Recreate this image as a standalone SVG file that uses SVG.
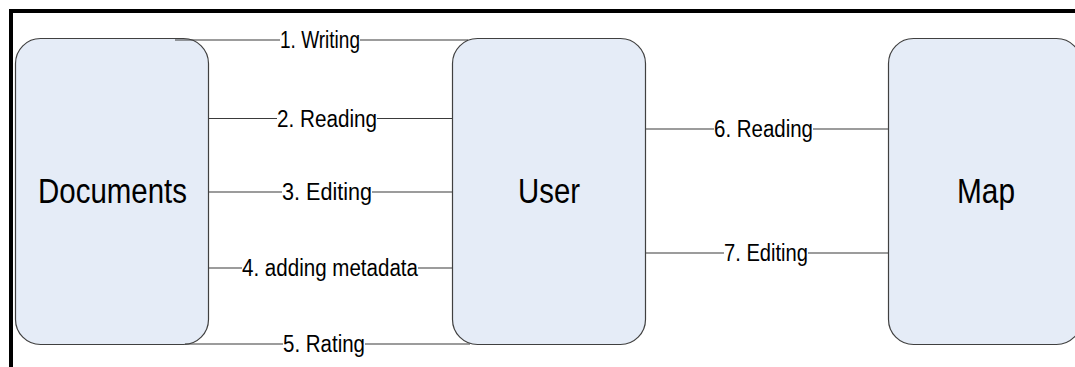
<svg xmlns="http://www.w3.org/2000/svg" width="1075" height="367" viewBox="0 0 1075 367">
<style>
.node{fill:#e5ecf7;stroke:#404040;stroke-width:1.2}
.big{font-family:"Liberation Sans",Arial,sans-serif;font-size:35px;fill:#000;text-anchor:middle}
.lbl{font-family:"Liberation Sans",Arial,sans-serif;font-size:23px;fill:#000;text-anchor:middle}
.ln{stroke:#3a3a3a;stroke-width:1.2;fill:none}
.mask{fill:#fff}
</style>
<rect x="0" y="0" width="1075" height="367" fill="#fff"/>
<g id="frame">
<rect x="9" y="9" width="1066" height="4" fill="#000"/>
<rect x="9" y="9" width="4" height="358" fill="#000"/>
</g>
<g id="documents">
<rect class="node" x="15.5" y="38.5" width="193" height="306" rx="25" ry="25"/>
<text class="big" x="112.5" y="202.5" textLength="149" lengthAdjust="spacingAndGlyphs">Documents</text>
</g>
<g id="user">
<rect class="node" x="452.5" y="38.5" width="193" height="306" rx="25" ry="25"/>
<text class="big" x="549" y="202.5" textLength="62" lengthAdjust="spacingAndGlyphs">User</text>
</g>
<g id="map">
<rect class="node" x="888.5" y="38.5" width="193" height="306" rx="25" ry="25"/>
<text class="big" x="986" y="202.5" textLength="58" lengthAdjust="spacingAndGlyphs">Map</text>
</g>
<g id="connectors">
<line class="ln" x1="175" y1="40" x2="468" y2="40"/>
<rect class="mask" x="280" y="29" width="80" height="22"/>
<text class="lbl" x="320" y="47.5" textLength="80" lengthAdjust="spacingAndGlyphs">1. Writing</text>

<line class="ln" x1="209" y1="118.5" x2="452" y2="118.5"/>
<rect class="mask" x="277" y="107" width="100" height="22"/>
<text class="lbl" x="327" y="126.5" textLength="100" lengthAdjust="spacingAndGlyphs">2. Reading</text>

<line class="ln" x1="209" y1="192" x2="452" y2="192"/>
<rect class="mask" x="282" y="181" width="90" height="22"/>
<text class="lbl" x="327" y="200" textLength="90" lengthAdjust="spacingAndGlyphs">3. Editing</text>

<line class="ln" x1="209" y1="268" x2="452" y2="268"/>
<rect class="mask" x="242" y="257" width="176" height="22"/>
<text class="lbl" x="330" y="276" textLength="176" lengthAdjust="spacingAndGlyphs">4. adding metadata</text>

<line class="ln" x1="185" y1="344" x2="470" y2="344"/>
<rect class="mask" x="283" y="333" width="82" height="22"/>
<text class="lbl" x="324" y="352" textLength="82" lengthAdjust="spacingAndGlyphs">5. Rating</text>

<line class="ln" x1="646" y1="129" x2="888" y2="129"/>
<rect class="mask" x="714" y="118" width="99" height="22"/>
<text class="lbl" x="763.5" y="137" textLength="99" lengthAdjust="spacingAndGlyphs">6. Reading</text>

<line class="ln" x1="646" y1="253" x2="888" y2="253"/>
<rect class="mask" x="724" y="242" width="84" height="22"/>
<text class="lbl" x="766" y="261" textLength="84" lengthAdjust="spacingAndGlyphs">7. Editing</text>
</g>
</svg>
